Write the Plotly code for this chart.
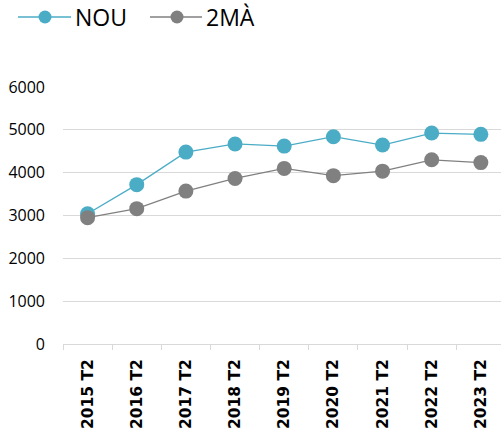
import plotly.graph_objects as go

categories = ["2015 T2", "2016 T2", "2017 T2", "2018 T2", "2019 T2",
              "2020 T2", "2021 T2", "2022 T2", "2023 T2"]
nou = [3040, 3720, 4480, 4670, 4620, 4840, 4645, 4925, 4895]
dos_ma = [2950, 3160, 3570, 3865, 4100, 3930, 4035, 4300, 4235]
series_names = ["NOU", "2MÀ"]
colors = ["#4BACC6", "#808080"]
y_ticks = [0, 1000, 2000, 3000, 4000, 5000, 6000]

# figure geometry (page body margin removed via post_script)
W, H = 501, 430
ML, MR, MT, MB = 63, 0, 87, 86
PW, PH = W - ML - MR, H - MT - MB


def px(x):
    return (x - ML) / PW


def py(y):
    return 1 - (y - MT) / PH


fig = go.Figure()
for name, vals, col in zip(series_names, [nou, dos_ma], colors):
    fig.add_trace(go.Scatter(
        x=categories, y=vals, name=name, mode="lines+markers",
        line=dict(color=col, width=1.3),
        marker=dict(color=col, size=15),
        showlegend=False,
    ))

# legend drawn as shapes + text annotations (page-pixel layout)
legend_items = [(18, 71, 45, 74), (150, 202, 177, 205)]
leg_y = 17
shapes, annotations = [], []
for (lx0, lx1, mx, tx), name, col in zip(legend_items, series_names, colors):
    shapes.append(dict(type="line", xref="paper", yref="paper",
                       x0=px(lx0), x1=px(lx1), y0=py(leg_y), y1=py(leg_y),
                       line=dict(color=col, width=1.3), layer="above"))
    r = 6.5
    shapes.append(dict(type="circle", xref="paper", yref="paper",
                       x0=px(mx - r), x1=px(mx + r), y0=py(leg_y + r), y1=py(leg_y - r),
                       fillcolor=col, line=dict(width=0), layer="above"))
    annotations.append(dict(text=name, xref="paper", yref="paper",
                            x=px(tx), y=py(leg_y), xanchor="left", yanchor="middle",
                            showarrow=False, borderpad=0,
                            font=dict(family="Open Sans", size=23, color="#000000")))

fig.update_layout(
    width=W, height=H,
    margin=dict(l=ML, r=MR, t=MT, b=MB, pad=0, autoexpand=False),
    paper_bgcolor="white", plot_bgcolor="white",
    font=dict(family="Open Sans", color="#000000"),
    showlegend=False,
    hovermode=False,
    shapes=shapes, annotations=annotations,
    xaxis=dict(
        type="category", range=[-0.5, 8.41],
        tickson="boundaries", ticks="outside", ticklen=5,
        tickcolor="#D9D9D9", tickwidth=1,
        showline=True, linecolor="#D9D9D9", linewidth=1,
        showgrid=False, zeroline=False,
        tickangle=-90,
        tickfont=dict(family="DejaVu Sans", size=15.5, color="#000000", weight="bold"),
        ticklabelstandoff=8,
    ),
    yaxis=dict(
        range=[0, 6000], tickvals=y_ticks, ticks="",
        showgrid=True, gridcolor="#D9D9D9", gridwidth=1,
        zeroline=False, showline=False,
        tickfont=dict(family="Open Sans", size=16, color="#000000"),
        ticklabelstandoff=17,
    ),
)

fig.write_html(
    "out.html",
    config={"displayModeBar": False, "staticPlot": True},
    post_script="document.body.style.margin='0';document.body.style.overflow='hidden';",
)
